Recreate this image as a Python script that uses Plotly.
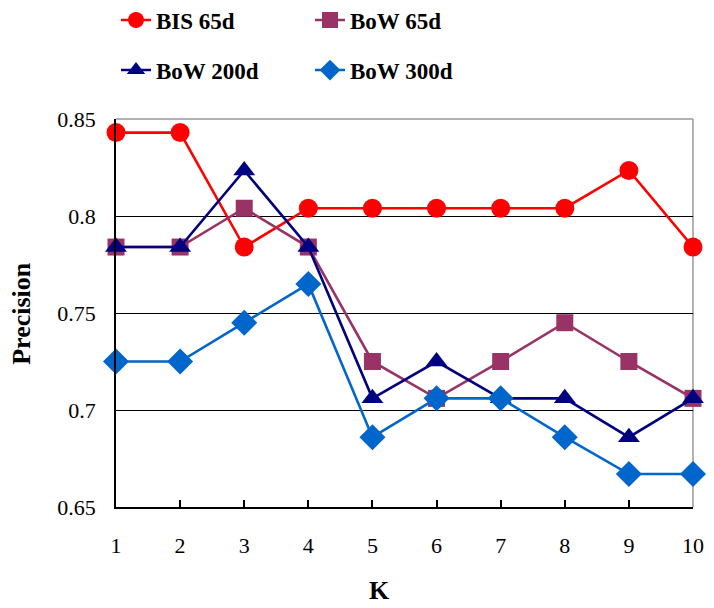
import plotly.graph_objects as go

k_values = [1, 2, 3, 4, 5, 6, 7, 8, 9, 10]
bis_65d = [0.843, 0.843, 0.784, 0.804, 0.804, 0.804, 0.804, 0.804, 0.8235, 0.784]
bow_65d = [0.784, 0.784, 0.804, 0.784, 0.725, 0.706, 0.725, 0.745, 0.725, 0.706]
bow_200d = [0.784, 0.784, 0.8235, 0.784, 0.706, 0.725, 0.706, 0.706, 0.686, 0.706]
bow_300d = [0.725, 0.725, 0.745, 0.765, 0.686, 0.706, 0.706, 0.686, 0.667, 0.667]
y_ticks = [0.65, 0.7, 0.75, 0.8, 0.85]
y_tick_labels = ["0.65", "0.7", "0.75", "0.8", "0.85"]

SERIF = "Liberation Serif, Times New Roman, serif"

series = [
    ("BIS 65d", bis_65d, "#FF0000", "circle", 19, "legend"),
    ("BoW 65d", bow_65d, "#993366", "square", 17, "legend"),
    ("BoW 200d", bow_200d, "#000080", "triangle-up", 19, "legend2"),
    ("BoW 300d", bow_300d, "#0066CC", "diamond", 20, "legend2"),
]

fig = go.Figure()
for name, vals, color, sym, size, leg in series:
    fig.add_trace(go.Scatter(
        x=k_values, y=vals, name=name, mode="lines+markers",
        line=dict(color=color, width=2.6),
        marker=dict(symbol=sym, size=size, color=color, line=dict(width=0)),
        cliponaxis=False, legend=leg,
    ))

legend_common = dict(
    orientation="h", xanchor="left", yanchor="middle",
    font=dict(family=SERIF, size=23, color="black", weight="bold"),
    bgcolor="rgba(0,0,0,0)", entrywidth=149, entrywidthmode="pixels",
    itemwidth=30,
)

fig.update_layout(
    width=714, height=608,
    margin=dict(l=116, r=21, t=119, b=101, autoexpand=False),
    paper_bgcolor="white", plot_bgcolor="white",
    font=dict(family=SERIF, color="black"),
    legend=dict(x=0.0, y=1.255, **legend_common),
    legend2=dict(x=0.0, y=1.126, **legend_common),
    xaxis=dict(
        range=[1, 10], tickmode="array", tickvals=k_values,
        ticktext=[str(k) for k in k_values],
        showgrid=False, zeroline=False,
        showline=True, linecolor="black", linewidth=1.5,
        ticks="inside", ticklen=7, tickcolor="black", tickwidth=1.5,
        tickfont=dict(family=SERIF, size=22, color="black"),
        ticklabelstandoff=18,
    ),
    yaxis=dict(
        range=[0.65, 0.85], tickmode="array", tickvals=y_ticks,
        ticktext=y_tick_labels,
        showgrid=True, gridcolor="black", gridwidth=1.2,
        zeroline=False,
        showline=True, linecolor="black", linewidth=1.5,
        ticks="", tickfont=dict(family=SERIF, size=22, color="black"),
        ticklabelstandoff=14,
    ),
    shapes=[
        dict(type="line", xref="paper", yref="paper", x0=0, x1=1, y0=1, y1=1,
             line=dict(color="#999999", width=1.5), layer="between"),
        dict(type="line", xref="paper", yref="paper", x0=1, x1=1, y0=0, y1=1,
             line=dict(color="#999999", width=1.5), layer="between"),
    ],
    annotations=[
        dict(text="Precision", xref="paper", yref="paper", x=-0.165, y=0.5,
             textangle=-90, showarrow=False, xanchor="center", yanchor="middle",
             font=dict(family=SERIF, size=26, color="black", weight="bold")),
        dict(text="K", xref="paper", yref="paper", x=0.457, y=-0.214,
             showarrow=False, xanchor="center", yanchor="middle",
             font=dict(family=SERIF, size=26, color="black", weight="bold")),
    ],
)

fig.write_html(
    "out.html",
    config={"displayModeBar": False},
    post_script="document.body.style.margin='0';document.body.style.padding='0';",
)
